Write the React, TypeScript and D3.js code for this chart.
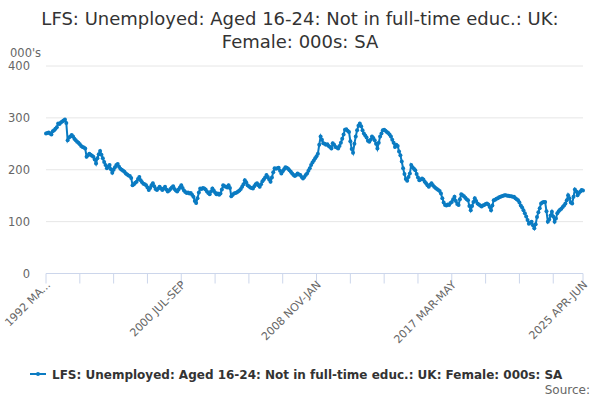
import React from "react";
import * as d3 from "d3";

const title1 = "LFS: Unemployed: Aged 16-24: Not in full-time educ.: UK:";
const title2 = "Female: 000s: SA";
const seriesName = "LFS: Unemployed: Aged 16-24: Not in full-time educ.: UK: Female: 000s: SA";
const unitLabel = "000's";
const yTicks = [0, 100, 200, 300, 400];
const xLabelIdx = [0, 100, 200, 300, 397];
const xLabels = ["1992 MA...", "2000 JUL-SEP", "2008 NOV-JAN", "2017 MAR-MAY", "2025 APR-JUN"];

const values: number[] = [
  270, 271, 272, 270, 268, 274, 276, 279, 282, 289,
  288, 291, 293, 295, 297, 290, 257, 262, 264, 267,
  264, 260, 257, 254, 252, 249, 246, 244, 243, 241,
  225, 228, 231, 229, 227, 225, 220, 212, 222, 230,
  236, 229, 222, 215, 209, 203, 206, 209, 201, 194,
  200, 205, 209, 211, 206, 202, 200, 198, 196, 193,
  191, 189, 188, 184, 170, 172, 175, 177, 182, 186,
  180, 176, 173, 172, 170, 166, 161, 165, 170, 174,
  168, 163, 161, 164, 167, 164, 161, 164, 167, 162,
  158, 160, 163, 166, 168, 163, 160, 158, 162, 166,
  170, 165, 160, 157, 155, 156, 154, 155, 152, 148,
  140, 136, 145, 156, 164, 163, 165, 164, 162, 158,
  155, 153, 158, 164, 160, 156, 153, 154, 152, 154,
  162, 170, 168, 167, 166, 170, 165, 149, 152, 154,
  155, 156, 158, 160, 163, 167, 172, 180, 176, 170,
  168, 166, 165, 164, 168, 172, 174, 170, 167, 172,
  178, 181, 185, 190, 186, 181, 177, 185, 195, 203,
  202, 203, 204, 198, 193, 197, 201, 205, 204, 202,
  199, 196, 193, 190, 188, 190, 193, 191, 190, 186,
  183, 186, 190, 193, 198, 203, 209, 214, 218, 222,
  226, 231, 248, 264, 258, 251, 250, 248, 249, 246,
  244, 241, 251, 248, 244, 243, 241, 246, 252, 260,
  268, 277, 278, 275, 273, 255, 240, 233, 250, 264,
  276, 285, 289, 284, 276, 270, 266, 262, 256, 254,
  258, 264, 261, 257, 250, 241, 252, 264, 270, 276,
  277, 275, 273, 271, 268, 264, 258, 252, 244, 248,
  246, 235, 228, 216, 203, 192, 182, 179, 186, 193,
  209, 205, 202, 199, 192, 185, 180, 181, 183, 181,
  177, 174, 170, 167, 171, 174, 170, 167, 165, 163,
  161, 159, 154, 145, 137, 132, 131, 133, 132, 136,
  138, 143, 148, 140, 134, 132, 143, 153, 151, 149,
  146, 143, 141, 130, 122, 130, 138, 145, 140, 135,
  133, 131, 129, 131, 132, 134, 135, 133, 128, 122,
  131, 141, 142, 144, 145, 147, 148, 149, 150, 151,
  151, 150, 150, 149, 149, 148, 148, 145, 143, 141,
  137, 131, 127, 122, 116, 110, 103, 96, 98, 100,
  93, 87, 95, 109, 118, 126, 135, 137, 138, 138,
  120, 100, 104, 112, 119, 110, 100, 106, 116, 120,
  123, 125, 128, 131, 135, 141, 151, 145, 137, 135,
  148, 162, 158, 151, 155, 158, 161, 160,
];

const W = 600;
const H = 400;
const left = 46;
const right = 583;
const top = 66;
const bottom = 273.5;
const color = "#0a7bc2";
const font = "'DejaVu Sans', 'Lucida Grande', sans-serif";

export default function App() {
  const n = values.length;
  const x = d3.scaleLinear().domain([0, n - 1]).range([left, right]);
  const y = d3.scaleLinear().domain([0, 400]).range([bottom, top]);
  const line = d3
    .line<number>()
    .x((_, i) => x(i))
    .y((d) => y(d));
  const minorTicks = d3.range(0, n, 25);

  return (
    <svg
      width={W}
      height={H}
      style={{ position: "absolute", left: 0, top: 0, fontFamily: font }}
    >
      <rect width={W} height={H} fill="#fff" />
      <text x={300} y={25} textAnchor="middle" fontSize={18} fill="#333">
        {title1}
      </text>
      <text x={300} y={48} textAnchor="middle" fontSize={18} fill="#333">
        {title2}
      </text>
      <text x={10} y={57} fontSize={11.5} fill="#666">
        {unitLabel}
      </text>
      {yTicks.map((t) => (
        <g key={t}>
          {t > 0 && (
            <line x1={left} x2={right} y1={y(t)} y2={y(t)} stroke="#e6e6e6" strokeWidth={1} />
          )}
          <text x={30} y={y(t) + 4} textAnchor="end" fontSize={11.5} fill="#666">
            {t}
          </text>
        </g>
      ))}
      <line x1={left} x2={right} y1={bottom} y2={bottom} stroke="#ccd6eb" strokeWidth={1} />
      {[...minorTicks, n - 1].map((i) => (
        <line key={i} x1={x(i)} x2={x(i)} y1={bottom} y2={bottom + 10} stroke="#ccd6eb" strokeWidth={1} />
      ))}
      {xLabelIdx.map((i, k) => (
        <text
          key={i}
          transform={`translate(${x(i) + 5},${bottom + 12}) rotate(-45)`}
          textAnchor="end"
          fontSize={11}
          fill="#666"
        >
          {xLabels[k]}
        </text>
      ))}
      <path d={line(values) || ""} fill="none" stroke={color} strokeWidth={2} />
      {values.map((v, i) => (
        <circle key={i} cx={x(i)} cy={y(v)} r={2} fill={color} />
      ))}
      <line x1={30} x2={46} y1={374} y2={374} stroke={color} strokeWidth={2} />
      <circle cx={38} cy={374} r={2} fill={color} />
      <text x={52} y={378.5} fontSize={12} fontWeight="bold" fill="#333">
        {seriesName}
      </text>
      <text x={590} y={394} textAnchor="end" fontSize={12} fill="#666">
        Source:
      </text>
    </svg>
  );
}
